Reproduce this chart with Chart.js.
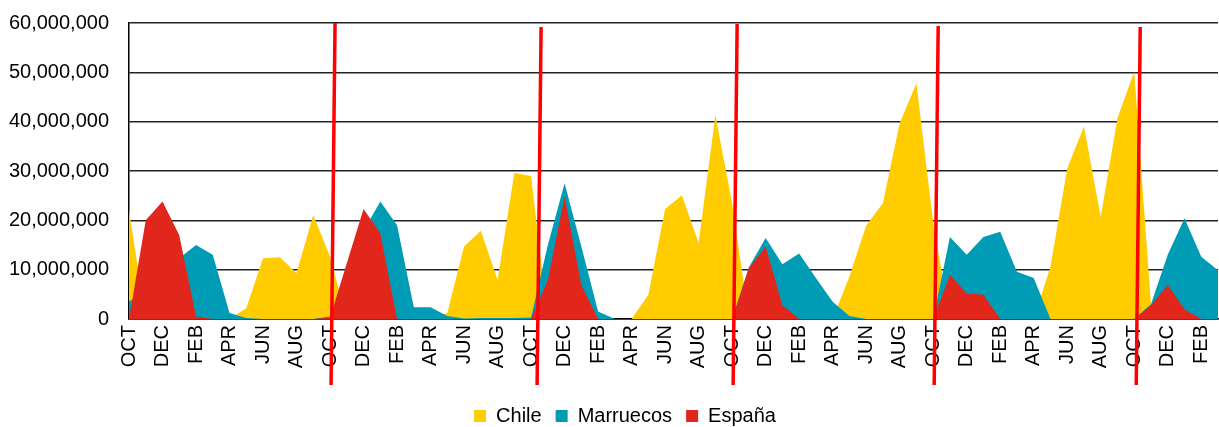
<!DOCTYPE html>
<html>
<head>
<meta charset="utf-8">
<script src="https://cdn.jsdelivr.net/npm/chart.js@4.4.1/dist/chart.umd.min.js"></script>
<style>
  html, body { margin: 0; padding: 0; background: #fff; }
  #wrap { width: 1219px; height: 427px; }
</style>
</head>
<body>
<div id="wrap"><canvas id="myChart" width="1219" height="427"></canvas></div>
<script>
// months, starting in October, about five and a half seasons
var monthNames = ["OCT", "NOV", "DEC", "JAN", "FEB", "MAR", "APR", "MAY", "JUN", "JUL", "AUG", "SEP"];
var xValues = [];
for (var i = 0; i < 66; i++) xValues.push(monthNames[i % 12]);

// values in millions
var chile = [22.1, 0, 0, 0, 0, 0, 0, 2.2, 12.3, 12.5, 9.3, 21.1,
             12.6, 0, 0, 0, 0, 0, 0, 1.2, 14.7, 17.9, 7.9, 29.6,
             29.0, 0, 0, 0, 0, 0, 0, 4.9, 22.3, 25.1, 15.4, 41.3,
             23.5, 0, 0, 0, 0, 0, 0, 8.6, 18.9, 23.5, 39.7, 47.8,
             19.5, 0, 0, 0, 0, 0, 0, 10.6, 30.5, 39.0, 20.7, 40.7,
             50.1, 2.8, 0, 0, 0, 0];
var marruecos = [3.6, 5, 8, 12.3, 15, 13, 1.2, 0.2, 0, 0, 0, 0,
                 0.5, 8, 17.9, 23.8, 19, 2.4, 2.4, 0.6, 0.1, 0.2, 0.2, 0.2,
                 0.3, 15, 27.5, 14.7, 1.5, 0, 0, 0, 0, 0, 0, 0,
                 0, 10.5, 16.4, 11.1, 13.3, 8.3, 3.5, 0.6, 0, 0, 0, 0,
                 0, 16.6, 13, 16.6, 17.7, 9.6, 8.3, 0, 0, 0, 0, 0,
                 0, 3, 13, 20.4, 12.6, 9.9];
var espana = [0, 20, 23.8, 17, 0.5, 0, 0, 0, 0, 0, 0, 0,
              0.3, 11.3, 22.3, 17.4, 0, 0, 0, 0, 0, 0, 0, 0,
              0, 7.9, 24.8, 6.9, 0, 0, 0, 0, 0, 0, 0, 0,
              0, 10.3, 14.7, 2.8, 0, 0, 0, 0, 0, 0, 0, 0,
              0, 8.9, 5.2, 4.9, 0, 0, 0, 0, 0, 0, 0, 0,
              0, 2.8, 6.9, 2, 0, 0];
var octIndexes = [12, 24, 36, 48, 60];

function toUnits(arr) {
    return arr.map(function (v) { return Math.round(v * 1000000); });
}

var FONT = "'Liberation Sans', Arial, sans-serif";
var PLOT_BOTTOM = 319;
var PAD_BOTTOM = -9;

// hand drawn red lines marking each new season (a bit slanted, not all equal)
var lineNudge = [0, 5, 0, 0, 1];
var lineTopDrop = [0, 4, 1, 3, 4];
var seasonLines = {
    id: 'seasonLines',
    afterLayout: function (chart) {
        // legend sits a little right of centre in the original
        chart.legend.left += 16;
        chart.legend.right += 16;
    },
    afterDraw: function (chart) {
        var ctx = chart.ctx;
        var x = chart.scales.x;
        var top = chart.chartArea.top;
        ctx.save();
        ctx.strokeStyle = '#ff0000';
        ctx.lineWidth = 3.5;
        octIndexes.forEach(function (idx, k) {
            var px = x.getPixelForValue(idx) + lineNudge[k];
            ctx.beginPath();
            ctx.moveTo(px + 5, top + lineTopDrop[k]);
            ctx.lineTo(px + 1, 385);
            ctx.stroke();
        });
        ctx.restore();
    }
};

new Chart('myChart', {
    type: 'line',
    data: {
        labels: xValues,
        datasets: [
            { label: 'España', data: toUnits(espana), backgroundColor: '#e1261c', fill: 'origin', borderWidth: 0, pointRadius: 0, tension: 0 },
            { label: 'Marruecos', data: toUnits(marruecos), backgroundColor: '#009cb6', fill: 'origin', borderWidth: 0, pointRadius: 0, tension: 0 },
            { label: 'Chile', data: toUnits(chile), backgroundColor: '#ffcc00', fill: 'origin', borderWidth: 0, pointRadius: 0, tension: 0 }
        ]
    },
    options: {
        responsive: false,
        animation: false,
        layout: { padding: { top: 23, right: 1, left: 0, bottom: PAD_BOTTOM } },
        plugins: {
            legend: {
                position: 'bottom',
                reverse: true,
                labels: {
                    boxWidth: 12,
                    boxHeight: 12,
                    padding: 14,
                    color: '#000',
                    font: { family: FONT, size: 20 }
                }
            },
            tooltip: { enabled: false }
        },
        scales: {
            x: {
                grid: { display: false, drawTicks: false },
                border: { display: true, color: '#000', width: 1.5 },
                afterFit: function (s) {
                    s.paddingLeft = 0;
                    s.paddingRight = 0;
                    var legendH = s.chart.legend ? s.chart.legend.height : 0;
                    s.height = 427 - PAD_BOTTOM - legendH - PLOT_BOTTOM;
                },
                ticks: {
                    autoSkip: false,
                    maxRotation: 90,
                    minRotation: 90,
                    padding: 6,
                    color: '#000',
                    font: { family: FONT, size: 20 },
                    callback: function (val, index) {
                        return index % 2 === 0 ? xValues[index] : '';
                    }
                }
            },
            y: {
                min: 0,
                max: 60000000,
                grid: { color: '#222', lineWidth: 1.5, drawTicks: false },
                border: { display: true, color: '#000', width: 1.5 },
                afterFit: function (s) {
                    s.width = 129;
                    s.paddingTop = 0;
                    s.paddingBottom = 0;
                },
                ticks: {
                    stepSize: 10000000,
                    padding: 20,
                    color: '#000',
                    font: { family: FONT, size: 20 },
                    callback: function (v) { return v.toLocaleString('en-US'); }
                }
            }
        }
    },
    plugins: [seasonLines]
});
</script>
</body>
</html>
